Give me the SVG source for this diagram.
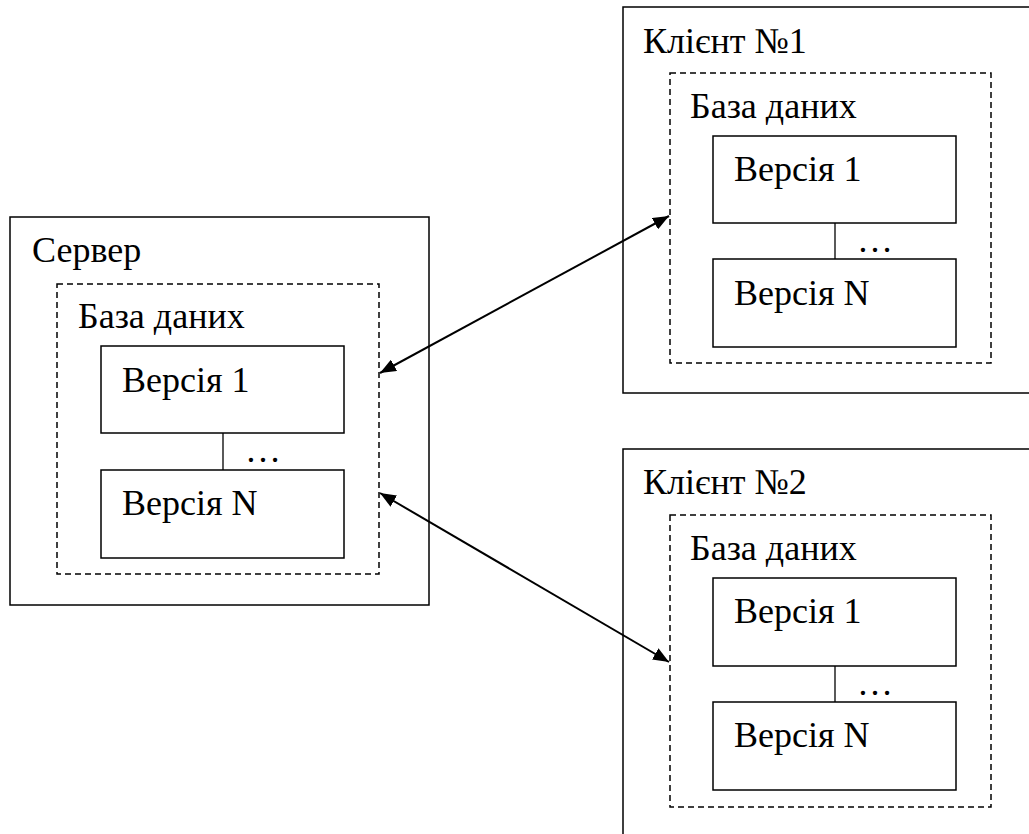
<svg xmlns="http://www.w3.org/2000/svg" width="1029" height="834" viewBox="0 0 1029 834">
  <defs>
    <!-- filled arrowhead, 16 x 13 px -->
    <marker id="head" viewBox="0 0 16 13" markerUnits="userSpaceOnUse" markerWidth="16" markerHeight="13" refX="16" refY="6.5" orient="auto-start-reverse">
      <path d="M0,0 L16,6.5 L0,13 z" fill="#000"/>
    </marker>
  </defs>
  <rect width="1029" height="834" fill="#fff"/>

  <!-- Server -->
  <g id="server">
    <rect x="10" y="217" width="419" height="388" fill="#fff" stroke="#000" stroke-width="1.5"/>
    <text x="32" y="262" style="font-family: 'Liberation Serif', serif; font-size: 36px">Сервер</text>
    <rect x="57" y="284" width="322" height="290" fill="none" stroke="#000" stroke-width="1.5" stroke-dasharray="6 4"/>
    <text x="78" y="328" style="font-family: 'Liberation Serif', serif; font-size: 36px">База даних</text>
    <rect x="101" y="346" width="243" height="87" fill="#fff" stroke="#000" stroke-width="1.5"/>
    <text x="122" y="392" style="font-family: 'Liberation Serif', serif; font-size: 36px">Версія 1</text>
    <line x1="223" y1="433" x2="223" y2="470" stroke="#000" stroke-width="1.3"/>
    <text x="245" y="462" style="font-family: 'Liberation Serif', serif; font-size: 36px">…</text>
    <rect x="101" y="470" width="243" height="88" fill="#fff" stroke="#000" stroke-width="1.5"/>
    <text x="122" y="515" style="font-family: 'Liberation Serif', serif; font-size: 36px">Версія N</text>
  </g>

  <!-- Client 1 -->
  <g id="client1">
    <rect x="623" y="7" width="420" height="386" fill="#fff" stroke="#000" stroke-width="1.5"/>
    <text x="643" y="53" style="font-family: 'Liberation Serif', serif; font-size: 36px">Клієнт №1</text>
    <rect x="670" y="73" width="321" height="290" fill="none" stroke="#000" stroke-width="1.5" stroke-dasharray="6 4"/>
    <text x="690" y="118" style="font-family: 'Liberation Serif', serif; font-size: 36px">База даних</text>
    <rect x="713" y="136" width="243" height="87" fill="#fff" stroke="#000" stroke-width="1.5"/>
    <text x="734" y="181" style="font-family: 'Liberation Serif', serif; font-size: 36px">Версія 1</text>
    <line x1="835" y1="223" x2="835" y2="259" stroke="#000" stroke-width="1.3"/>
    <text x="857" y="252" style="font-family: 'Liberation Serif', serif; font-size: 36px">…</text>
    <rect x="713" y="259" width="243" height="88" fill="#fff" stroke="#000" stroke-width="1.5"/>
    <text x="734" y="305" style="font-family: 'Liberation Serif', serif; font-size: 36px">Версія N</text>
  </g>

  <!-- Client 2 -->
  <g id="client2">
    <rect x="623" y="449" width="420" height="400" fill="#fff" stroke="#000" stroke-width="1.5"/>
    <text x="643" y="494" style="font-family: 'Liberation Serif', serif; font-size: 36px">Клієнт №2</text>
    <rect x="670" y="515" width="321" height="292" fill="none" stroke="#000" stroke-width="1.5" stroke-dasharray="6 4"/>
    <text x="690" y="560" style="font-family: 'Liberation Serif', serif; font-size: 36px">База даних</text>
    <rect x="713" y="578" width="243" height="88" fill="#fff" stroke="#000" stroke-width="1.5"/>
    <text x="734" y="623" style="font-family: 'Liberation Serif', serif; font-size: 36px">Версія 1</text>
    <line x1="835" y1="666" x2="835" y2="702" stroke="#000" stroke-width="1.3"/>
    <text x="857" y="695" style="font-family: 'Liberation Serif', serif; font-size: 36px">…</text>
    <rect x="713" y="702" width="243" height="88" fill="#fff" stroke="#000" stroke-width="1.5"/>
    <text x="734" y="747" style="font-family: 'Liberation Serif', serif; font-size: 36px">Версія N</text>
  </g>

  <!-- Connectors -->
  <g id="connectors">
    <line x1="380" y1="373" x2="669" y2="216" stroke="#000" stroke-width="2" marker-start="url(#head)" marker-end="url(#head)"/>
    <line x1="380" y1="493" x2="669" y2="662" stroke="#000" stroke-width="2" marker-start="url(#head)" marker-end="url(#head)"/>
  </g>
</svg>
